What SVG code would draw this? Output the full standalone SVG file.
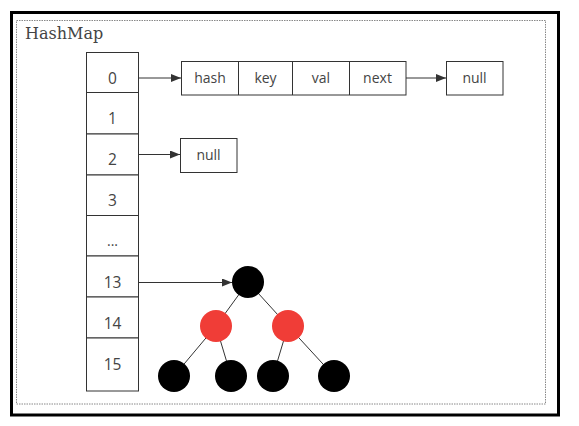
<svg xmlns="http://www.w3.org/2000/svg" width="579" height="426" viewBox="0 0 579 426">
<defs>
<style>
.t{font-family:"Open Sans","Liberation Sans",sans-serif;font-size:14px;fill:#444;text-anchor:middle}
.d{font-family:"Open Sans","Liberation Sans",sans-serif;font-size:15.5px;fill:#444;text-anchor:middle}
.box{fill:#fff;stroke:#333;stroke-width:1}
.ln{stroke:#333;stroke-width:1;fill:none}
.blk{fill:#000}
.red{fill:#f03d37}
</style>
<marker id="ah" markerWidth="10" markerHeight="8" refX="10" refY="4" orient="auto" markerUnits="userSpaceOnUse">
<path d="M0,0 L10,4 L0,8 z" fill="#333"/>
</marker>
</defs>
<rect x="0" y="0" width="579" height="426" fill="#fff"/>
<rect x="11.5" y="12.5" width="547" height="402.5" fill="none" stroke="#000" stroke-width="3"/>
<rect x="16.5" y="20.5" width="529" height="383.5" fill="none" stroke="#888" stroke-width="1" stroke-dasharray="1.5,1"/>
<text x="25" y="38.5" font-family="DejaVu Serif,serif" font-size="16" fill="#444">HashMap</text>
<g id="array">
<rect class="box" x="86.5" y="52.5" width="52" height="40"/>
<text class="d" x="112.5" y="83.5">0</text>
<rect class="box" x="86.5" y="92.5" width="52" height="41.5"/>
<text class="d" x="112.5" y="123.5">1</text>
<rect class="box" x="86.5" y="134" width="52" height="41"/>
<text class="d" x="112.5" y="164.5">2</text>
<rect class="box" x="86.5" y="175" width="52" height="40.5"/>
<text class="d" x="112.5" y="205.5">3</text>
<rect class="box" x="86.5" y="215.5" width="52" height="40.5"/>
<text class="t" x="112.5" y="246">...</text>
<rect class="box" x="86.5" y="256" width="52" height="41"/>
<text class="d" x="112.5" y="287.5">13</text>
<rect class="box" x="86.5" y="297" width="52" height="41"/>
<text class="d" x="112.5" y="328.5">14</text>
<rect class="box" x="86.5" y="338" width="52" height="53"/>
<text class="d" x="112.5" y="369.5">15</text>
</g>
<g id="entry">
<rect class="box" x="181.5" y="61.5" width="224.5" height="33.5"/>
<line class="ln" x1="238.5" y1="61.5" x2="238.5" y2="95"/>
<line class="ln" x1="292.5" y1="61.5" x2="292.5" y2="95"/>
<line class="ln" x1="349.5" y1="61.5" x2="349.5" y2="95"/>
<text class="t" x="210" y="83">hash</text>
<text class="t" x="265.5" y="83">key</text>
<text class="t" x="321" y="83">val</text>
<text class="t" x="377.5" y="83">next</text>
</g>
<g id="null1">
<rect class="box" x="446.5" y="61.5" width="56.5" height="33.5"/>
<text class="t" x="474.5" y="83">null</text>
</g>
<g id="null2">
<rect class="box" x="180.5" y="138.5" width="56.5" height="34"/>
<text class="t" x="208.5" y="160">null</text>
</g>
<g id="connectors">
<line class="ln" x1="139" y1="78" x2="181" y2="78" marker-end="url(#ah)"/>
<line class="ln" x1="406" y1="78" x2="446" y2="78" marker-end="url(#ah)"/>
<line class="ln" x1="139" y1="154.5" x2="180" y2="154.5" marker-end="url(#ah)"/>
<line class="ln" x1="139" y1="282.5" x2="232" y2="282.5" marker-end="url(#ah)"/>
<line class="ln" x1="248" y1="282" x2="216" y2="326"/>
<line class="ln" x1="248" y1="282" x2="288" y2="326"/>
<line class="ln" x1="216" y1="326" x2="174" y2="376"/>
<line class="ln" x1="216" y1="326" x2="231" y2="376"/>
<line class="ln" x1="288" y1="326" x2="273" y2="376"/>
<line class="ln" x1="288" y1="326" x2="334" y2="376"/>
</g>
<g id="tree">
<circle class="blk" cx="248" cy="282" r="16"/>
<circle class="red" cx="216" cy="326" r="16"/>
<circle class="red" cx="288" cy="326" r="16"/>
<circle class="blk" cx="174" cy="376" r="16"/>
<circle class="blk" cx="231" cy="376" r="16"/>
<circle class="blk" cx="273" cy="376" r="16"/>
<circle class="blk" cx="334" cy="376" r="16"/>
</g>
</svg>
